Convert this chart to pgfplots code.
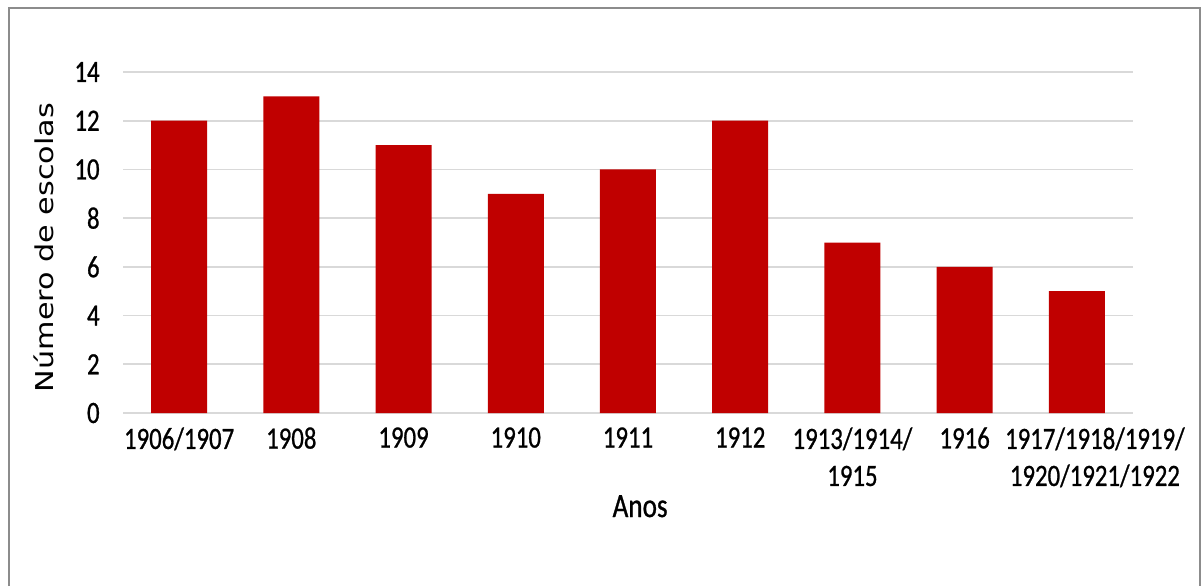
\documentclass[border=0pt]{standalone}
\usepackage{fontspec}
\setmainfont{Carlito}[FakeStretch=0.8, FakeBold=0.8]
\newfontfamily\ylabfont{DejaVu Sans}[FakeStretch=1.23]
\usepackage{pgfplots}
\pgfplotsset{compat=1.18}
\definecolor{barred}{HTML}{C00000}
\definecolor{gridgray}{HTML}{D9D9D9}
\definecolor{framegray}{HTML}{8C8C8C}
\begin{document}
\begin{tikzpicture}
\begin{axis}[
  name=ax,
  scale only axis,
  width=505pt, height=170.5pt,
  ybar, bar width=28pt,
  xmin=-0.5, xmax=8.5,
  ymin=0, ymax=14,
  ytick={0,2,...,14},
  xtick={0,...,7},
  xticklabels={1906/1907,1908,1909,1910,1911,1912,{1913/1914/\\1915},1916},
  extra x ticks={8},
  extra x tick labels={{1917/1918/1919/\\1920/1921/1922}},
  extra x tick style={xticklabel style={xshift=9pt}, grid=none},
  /pgf/number format/assume math mode=true,
  tick style={draw=none},
  major tick length=0pt,
  axis line style={draw=none},
  ymajorgrids,
  grid style={gridgray, line width=0.9pt},
  tick label style={font=\fontsize{15.5}{18.5}\selectfont, text=black},
  yticklabel style={anchor=east, inner sep=0pt, xshift=-11.5pt},
  xticklabel style={anchor=north, inner sep=0pt, yshift=-7pt, align=center},
  xlabel={Anos},
  xlabel style={at={(axis description cs:0.512,-0.305)}, anchor=base, font=\fontsize{17}{20}\selectfont, inner sep=0pt},
  ylabel={N\'umero de escolas},
  ylabel style={at={(axis description cs:-0.0693,0.4853)}, anchor=base, font=\ylabfont\fontsize{12.3}{14}\selectfont, inner sep=0pt},
]
\addplot[fill=barred, draw=none] coordinates {
  (0,12) (1,13) (2,11) (3,9) (4,10) (5,12) (6,7) (7,6) (8,5)
};
\end{axis}
\pgfresetboundingbox
\useasboundingbox ([shift={(-61.5pt,-86.5pt)}]ax.south west) rectangle ([shift={(539.5pt,206.5pt)}]ax.south west);
\draw[framegray, line width=1pt] ([shift={(-57pt,-86.5pt)}]ax.south west) -- ([shift={(-57pt,202.75pt)}]ax.south west) -- ([shift={(538.5pt,202.75pt)}]ax.south west) -- ([shift={(538.5pt,-86.5pt)}]ax.south west);
\end{tikzpicture}
\end{document}
